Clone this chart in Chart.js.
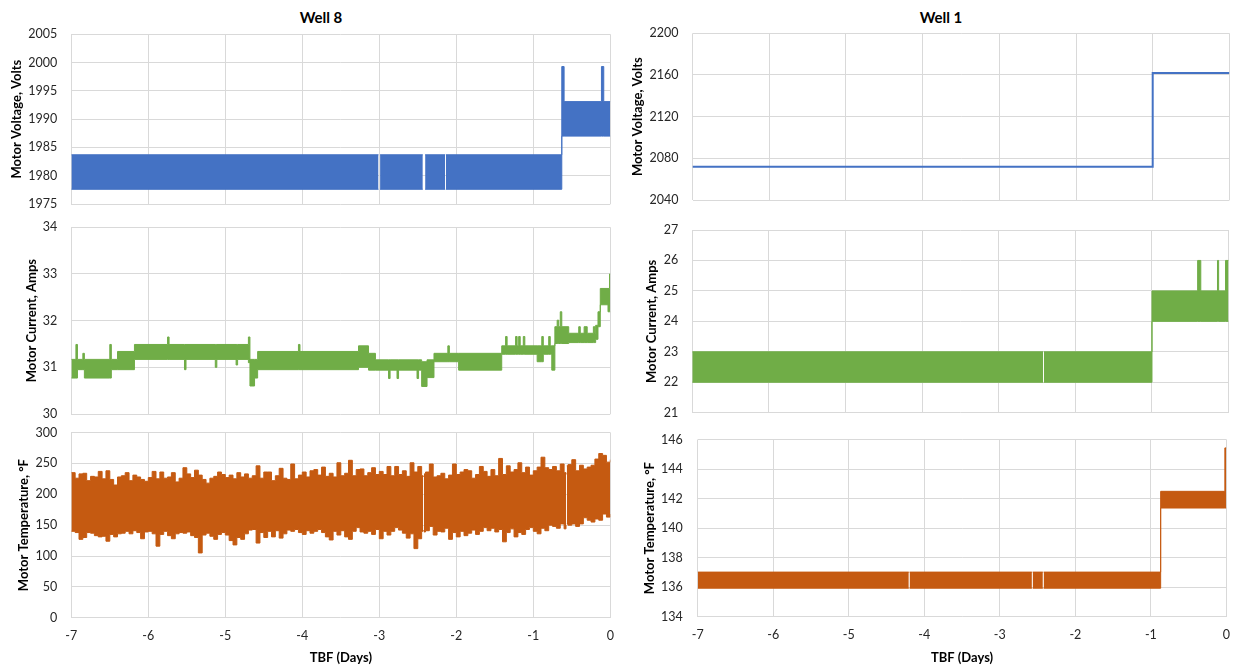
<!DOCTYPE html>
<html>
<head>
<meta charset="utf-8">
<script src="https://cdn.jsdelivr.net/npm/chart.js@4.4.1/dist/chart.umd.min.js"></script>
<style>
  body { margin: 0; background: #fff; width: 1241px; height: 666px; position: relative; overflow: hidden; font-family: Lato, sans-serif; }
  canvas { position: absolute; left: 0; top: 0; }
  .well { position: absolute; top: 8px; font: bold 15px/18px Lato, sans-serif; color: #000; transform: translateX(-50%); white-space: nowrap; }
</style>
</head>
<body>
<div class="well" style="left:321px">Well 8</div>
<div class="well" style="left:941px">Well 1</div>
<canvas id="volt8" width="1241" height="666"></canvas>
<canvas id="cur8" width="1241" height="666"></canvas>
<canvas id="temp8" width="1241" height="666"></canvas>
<canvas id="volt1" width="1241" height="666"></canvas>
<canvas id="cur1" width="1241" height="666"></canvas>
<canvas id="temp1" width="1241" height="666"></canvas>
<script>
// --- Data ---
const xTicks = [-7, -6, -5, -4, -3, -2, -1, 0];

// Well 8 voltage: band (high/low), null = gap in the record
const volt8Ticks = [1975, 1980, 1985, 1990, 1995, 2000, 2005];
const volt8Days = [-7, -3.01, -3.0, -2.99, -2.435, -2.42, -2.405, -2.145, -2.14, -2.135, -0.63, -0.60, -0.115, -0.085, 0];
const volt8High = [1983.7, 1983.7, null, 1983.7, 1983.7, null, 1983.7, 1983.7, null, 1983.7, 1999.3, 1993.1, 1999.3, 1993.1, 1993.1];
const volt8Low  = [1977.6, 1977.6, null, 1977.6, 1977.6, null, 1977.6, 1977.6, null, 1977.6, 1987.0, 1987.0, 1987.0, 1987.0, 1987.0];

// Well 1 voltage: single stepped line
const volt1Ticks = [2040, 2080, 2120, 2160, 2200];
const volt1Days = [-7, -1.0, 0];
const volt1Values = [2072, 2162, 2162];

// Well 8 current: band (level starts at each day)
const cur8Ticks = [30, 31, 32, 33, 34];
const cur8Days = [-7.00, -6.94, -6.92, -6.85, -6.83, -6.50, -6.48, -6.40, -6.18, -5.75, -5.73, -5.53, -5.51, -5.13, -5.11,
  -4.86, -4.84, -4.70, -4.68, -4.62, -4.58, -4.05, -4.03, -3.27, -3.14, -3.05, -2.88, -2.86, -2.77, -2.75,
  -2.51, -2.49, -2.45, -2.38, -2.29, -2.11, -2.09, -1.97, -1.41, -1.36, -1.34, -1.23, -1.21, -1.19, -1.17,
  -1.13, -1.11, -0.95, -0.89, -0.87, -0.80, -0.78, -0.76, -0.72, -0.69, -0.67, -0.65, -0.63, -0.54, -0.41,
  -0.39, -0.34, -0.30, -0.22, -0.20, -0.19, -0.16, -0.13, -0.03, -0.01, 0];
const cur8High = [31.17, 31.49, 31.17, 31.30, 31.17, 31.49, 31.17, 31.34, 31.49, 31.65, 31.49, 31.49, 31.49, 31.49, 31.49,
  31.49, 31.49, 31.65, 31.17, 31.17, 31.34, 31.49, 31.34, 31.46, 31.30, 31.16, 31.16, 31.16, 31.16, 31.16,
  31.16, 31.16, 31.12, 31.16, 31.30, 31.46, 31.30, 31.30, 31.46, 31.66, 31.46, 31.66, 31.46, 31.66, 31.46,
  31.66, 31.46, 31.46, 31.66, 31.46, 31.66, 31.46, 31.46, 31.87, 32.01, 31.87, 32.19, 31.87, 31.73, 31.87,
  31.73, 31.87, 31.73, 31.87, 31.73, 31.90, 32.19, 32.69, 32.69, 33.00, 33.00];
const cur8Low = [30.77, 30.77, 30.95, 30.95, 30.77, 30.77, 30.95, 30.95, 31.17, 31.17, 31.17, 30.95, 31.17, 31.00, 31.17,
  31.05, 31.17, 31.10, 30.60, 30.77, 30.95, 30.95, 30.95, 31.00, 30.94, 30.94, 30.76, 30.94, 30.76, 30.94,
  30.76, 30.94, 30.59, 30.78, 31.12, 31.12, 31.12, 30.94, 31.28, 31.28, 31.28, 31.28, 31.28, 31.28, 31.28,
  31.28, 31.28, 31.12, 31.12, 31.28, 31.28, 31.28, 30.94, 31.51, 31.51, 31.51, 31.51, 31.51, 31.53, 31.53,
  31.53, 31.53, 31.53, 31.53, 31.53, 31.60, 31.87, 32.34, 32.19, 32.19, 32.19];

// Well 1 current: band
const cur1Ticks = [21, 22, 23, 24, 25, 26, 27];
const cur1Days = [-7, -2.42, -2.415, -2.41, -1.0, -0.404, -0.363, -0.145, -0.13, -0.04, 0];
const cur1High = [23, 23, null, 23, 25, 26, 25, 26, 25, 26, 26];
const cur1Low  = [22, 22, null, 22, 24, 24, 24, 24, 24, 24, 24];

// Well 8 temperature: upper and lower envelope of the record
const temp8Ticks = [0, 50, 100, 150, 200, 250, 300];
const temp8Days = [-7, -6.95, -6.9, -6.85, -6.8, -6.75, -6.7, -6.65, -6.6, -6.55,
  -6.5, -6.45, -6.4, -6.35, -6.3, -6.25, -6.2, -6.15, -6.1, -6.05,
  -6, -5.95, -5.9, -5.85, -5.8, -5.75, -5.7, -5.65, -5.6, -5.55,
  -5.5, -5.45, -5.4, -5.35, -5.3, -5.25, -5.2, -5.15, -5.1, -5.05,
  -5, -4.95, -4.9, -4.85, -4.8, -4.75, -4.7, -4.65, -4.6, -4.55,
  -4.5, -4.45, -4.4, -4.35, -4.3, -4.25, -4.2, -4.15, -4.1, -4.05,
  -4, -3.95, -3.9, -3.85, -3.8, -3.75, -3.7, -3.65, -3.6, -3.55,
  -3.5, -3.45, -3.4, -3.35, -3.3, -3.25, -3.2, -3.15, -3.1, -3.05,
  -3, -2.95, -2.9, -2.85, -2.8, -2.75, -2.7, -2.65, -2.6, -2.55,
  -2.5, -2.45, -2.43, -2.425, -2.42, -2.4, -2.35, -2.3, -2.25, -2.2, -2.15, -2.1, -2.05,
  -2, -1.95, -1.9, -1.85, -1.8, -1.75, -1.7, -1.65, -1.6, -1.55,
  -1.5, -1.45, -1.4, -1.35, -1.3, -1.25, -1.2, -1.15, -1.1, -1.05,
  -1, -0.95, -0.9, -0.85, -0.8, -0.75, -0.7, -0.65, -0.6, -0.575, -0.57, -0.565, -0.55,
  -0.5, -0.45, -0.4, -0.35, -0.3, -0.25, -0.2, -0.15, -0.1, -0.05, 0];
const temp8High = [235, 226, 233, 234, 222, 229, 228, 237, 225, 238,
  224, 215, 228, 230, 235, 222, 231, 228, 224, 221,
  227, 237, 225, 236, 226, 228, 235, 220, 226, 243,
  233, 227, 239, 231, 224, 218, 226, 229, 236, 232,
  227, 231, 225, 235, 228, 233, 226, 230, 246, 226,
  236, 236, 222, 230, 242, 226, 224, 249, 225, 231,
  236, 228, 238, 240, 231, 244, 229, 234, 228, 251,
  230, 234, 255, 230, 240, 241, 230, 235, 243, 232,
  237, 232, 245, 230, 245, 232, 238, 229, 251, 236,
  245, 230, 228, null, 233, 236, 249, 228, 230, 234, 225, 231, 249,
  232, 236, 240, 238, 226, 232, 245, 237, 229, 240,
  230, 258, 232, 246, 236, 240, 251, 235, 244, 231,
  238, 244, 260, 243, 240, 245, 238, 249, 235, 232, null, 246, 248,
  256, 238, 247, 241, 244, 247, 257, 266, 263, 252, 256];
const temp8Low = [140, 138, 127, 130, 138, 137, 133, 131, 132, 124,
  135, 131, 136, 137, 140, 136, 141, 138, 128, 139,
  140, 136, 116, 135, 140, 133, 128, 136, 138, 137,
  139, 133, 130, 105, 134, 137, 132, 127, 135, 138,
  134, 125, 118, 130, 127, 136, 142, 143, 121, 138,
  130, 140, 131, 141, 129, 136, 142, 140, 143, 138,
  135, 141, 137, 140, 143, 138, 131, 126, 140, 134,
  141, 131, 127, 140, 146, 139, 137, 140, 135, 143,
  128, 140, 134, 140, 146, 142, 137, 129, 136, 112,
  128, 140, 142, null, 139, 141, 148, 134, 140, 139, 145, 127, 138,
  131, 140, 133, 137, 142, 135, 140, 146, 141, 145,
  139, 143, 123, 138, 144, 131, 138, 135, 143, 146,
  140, 136, 145, 141, 150, 148, 145, 152, 144, 150, null, 152, 150,
  152, 148, 152, 162, 158, 155, 160, 158, 168, 163, 168];

// Well 1 temperature: band
const temp1Ticks = [134, 136, 138, 140, 142, 144, 146];
const temp1Days = [-7, -4.205, -4.2, -4.195, -2.575, -2.57, -2.565, -2.43, -2.425, -2.42, -0.87, -0.02, 0];
const temp1High = [137.02, 137.02, null, 137.02, 137.02, null, 137.02, 137.02, null, 137.02, 142.49, 145.43, 145.43];
const temp1Low  = [135.93, 135.93, null, 135.93, 135.93, null, 135.93, 135.93, null, 135.93, 141.36, 141.36, 141.36];

// --- Styles ---
const BLUE = '#4472C4';
const GREEN = '#70AD47';
const ORANGE = '#C55A11';
const GRID = '#D9D9D9';
const TICK_COLOR = '#262626';
const TICK_FONT = { family: 'Lato', size: 12.5 };
const TITLE_FONT = { family: 'Lato', size: 13, weight: 'bold' };
const HALF_TITLE = 13 * 1.2 / 2;

function pts(xs, ys) {
  return xs.map((x, i) => ({ x: x, y: ys[i] }));
}

function band(xs, hi, lo, color, stepped) {
  return [
    { data: pts(xs, hi), borderColor: color, borderWidth: 1, fill: false, stepped: stepped },
    { data: pts(xs, lo), borderColor: color, borderWidth: 1, backgroundColor: color, fill: '-1', stepped: stepped }
  ];
}

// g: plot area (L, R, T, B), centre of the y title, height of x axis
function makePanel(id, g, yTicks, yTitle, datasets, showX) {
  const xH = showX ? g.xH : 0;
  const padLeft = g.titleX - HALF_TITLE;
  new Chart(document.getElementById(id), {
    type: 'line',
    data: { datasets: datasets },
    options: {
      responsive: false,
      animation: false,
      events: [],
      layout: { padding: { left: padLeft, right: 1241 - g.R, top: g.T, bottom: 666 - g.B - xH } },
      plugins: { legend: { display: false }, tooltip: { enabled: false } },
      elements: { point: { radius: 0 }, line: { tension: 0 } },
      scales: {
        x: {
          type: 'linear', min: -7, max: 0,
          afterBuildTicks: s => { s.ticks = xTicks.map(v => ({ value: v })); },
          grid: { color: GRID, drawTicks: false },
          border: { display: false },
          ticks: { display: showX, padding: 11, color: TICK_COLOR, font: TICK_FONT, callback: v => String(v) },
          title: { display: showX, text: 'TBF (Days)', color: '#000', padding: 0, font: TITLE_FONT },
          afterFit: s => { s.height = xH; }
        },
        y: {
          min: yTicks[0], max: yTicks[yTicks.length - 1],
          afterBuildTicks: s => { s.ticks = yTicks.map(v => ({ value: v })); },
          grid: { color: GRID, drawTicks: false },
          border: { display: false },
          ticks: { padding: g.yPad || 14, color: TICK_COLOR, font: TICK_FONT, callback: v => String(v) },
          title: { display: true, text: yTitle, color: '#000', padding: 0, font: TITLE_FONT },
          afterFit: s => { s.width = g.L - padLeft; }
        }
      }
    }
  });
}

makePanel('volt8', { L: 71.3, R: 610.3, T: 34.3, B: 204, titleX: 16.5 }, volt8Ticks, 'Motor Voltage, Volts',
  band(volt8Days, volt8High, volt8Low, BLUE, true), false);
makePanel('cur8', { L: 71.3, R: 610.3, T: 227.3, B: 414, titleX: 32 }, cur8Ticks, 'Motor Current, Amps',
  band(cur8Days, cur8High, cur8Low, GREEN, true), false);
makePanel('temp8', { L: 71.3, R: 610.3, T: 432.5, B: 617.8, titleX: 24, xH: 47.5 }, temp8Ticks, 'Motor Temperature, °F',
  band(temp8Days, temp8High, temp8Low, ORANGE, true), true);

makePanel('volt1', { L: 692.5, R: 1229.4, T: 33.3, B: 200, titleX: 638 }, volt1Ticks, 'Motor Voltage, Volts',
  [{ data: pts(volt1Days, volt1Values), borderColor: BLUE, borderWidth: 2, fill: false, stepped: true }], false);
makePanel('cur1', { L: 692.2, R: 1228.6, T: 230, B: 412.7, titleX: 652 }, cur1Ticks, 'Motor Current, Amps',
  band(cur1Days, cur1High, cur1Low, GREEN, true), false);
makePanel('temp1', { L: 697.7, R: 1234, T: 439.5, B: 616.7, titleX: 650, xH: 49, yPad: 15 }, temp1Ticks, 'Motor Temperature, °F',
  band(temp1Days, temp1High, temp1Low, ORANGE, true), true);
</script>
</body>
</html>
